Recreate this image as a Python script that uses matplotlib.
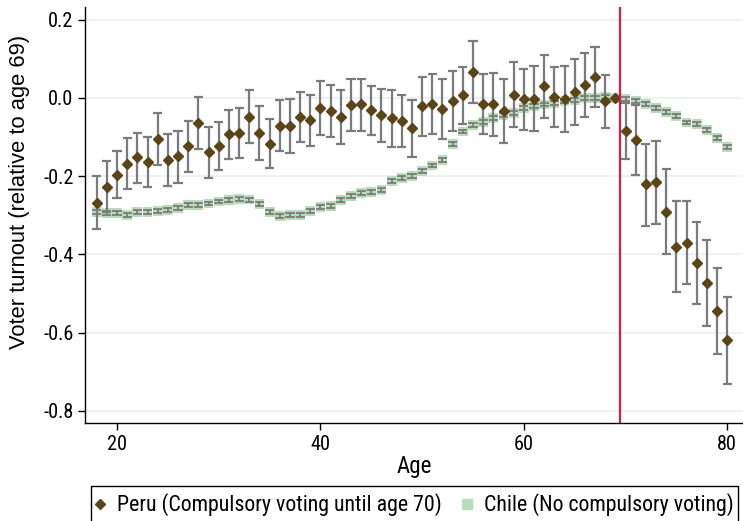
import matplotlib
matplotlib.use("Agg")
import matplotlib.pyplot as plt
from matplotlib import font_manager
from matplotlib.lines import Line2D
from matplotlib.patches import Rectangle
from matplotlib.ticker import FixedLocator, FormatStrFormatter

plt.rcParams['axes.unicode_minus'] = False


def pick_font(candidates):
    for name in candidates:
        try:
            font_manager.findfont(name, fallback_to_default=False)
            return name
        except Exception:
            continue
    return 'DejaVu Sans'


family = pick_font(['Liberation Sans Narrow', 'Arial Narrow', 'Roboto Condensed', 'Liberation Sans'])
title_family = pick_font(['Liberation Sans', 'Arial', 'Roboto'])
plt.rcParams['font.family'] = [family, 'DejaVu Sans']

# Ages covered by both series
ages = list(range(18, 81))

# Peru: point estimates and 95% confidence bounds (relative to age 69)
peru_est = [-0.268, -0.227, -0.196, -0.168, -0.152, -0.164, -0.106, -0.160, -0.148, -0.123,
            -0.064, -0.139, -0.124, -0.093, -0.090, -0.049, -0.090, -0.118, -0.072, -0.073,
            -0.050, -0.056, -0.027, -0.033, -0.049, -0.019, -0.017, -0.032, -0.044, -0.052,
            -0.058, -0.078, -0.022, -0.016, -0.029, -0.008, 0.006, 0.066, -0.015, -0.016,
            -0.034, 0.008, -0.003, -0.003, 0.029, 0.003, -0.003, 0.015, 0.032, 0.054,
            -0.009, 0.000, -0.085, -0.107, -0.221, -0.216, -0.291, -0.380, -0.370, -0.422,
            -0.472, -0.544, -0.618]
peru_hi = [-0.199, -0.161, -0.136, -0.102, -0.090, -0.099, -0.040, -0.093, -0.086, -0.058,
           0.003, -0.074, -0.063, -0.031, -0.025, 0.020, -0.021, -0.054, -0.006, -0.003,
           0.015, 0.008, 0.042, 0.033, 0.019, 0.048, 0.049, 0.029, 0.023, 0.020,
           0.008, -0.006, 0.054, 0.060, 0.047, 0.068, 0.079, 0.145, 0.062, 0.063,
           0.047, 0.092, 0.074, 0.080, 0.110, 0.078, 0.080, 0.098, 0.114, 0.131,
           0.059, 0.000, -0.013, -0.019, -0.118, -0.110, -0.181, -0.264, -0.263, -0.318,
           -0.362, -0.436, -0.508]
peru_lo = [-0.335, -0.292, -0.257, -0.233, -0.217, -0.228, -0.172, -0.226, -0.218, -0.189,
           -0.132, -0.205, -0.185, -0.156, -0.154, -0.116, -0.159, -0.179, -0.135, -0.141,
           -0.113, -0.122, -0.094, -0.099, -0.117, -0.086, -0.084, -0.095, -0.112, -0.125,
           -0.125, -0.150, -0.097, -0.093, -0.106, -0.084, -0.067, -0.013, -0.092, -0.097,
           -0.116, -0.074, -0.081, -0.086, -0.051, -0.074, -0.088, -0.069, -0.050, -0.023,
           -0.077, 0.000, -0.156, -0.196, -0.327, -0.322, -0.400, -0.497, -0.475, -0.527,
           -0.582, -0.655, -0.730]

# Chile: point estimates (relative to age 69) and half-width of the 95% CI
chile_est = [-0.292, -0.295, -0.295, -0.299, -0.292, -0.292, -0.289, -0.286, -0.282, -0.274,
             -0.273, -0.270, -0.265, -0.262, -0.259, -0.260, -0.272, -0.292, -0.302, -0.300,
             -0.300, -0.289, -0.278, -0.276, -0.262, -0.251, -0.243, -0.240, -0.236, -0.213,
             -0.205, -0.199, -0.187, -0.173, -0.158, -0.117, -0.086, -0.070, -0.061, -0.052,
             -0.044, -0.038, -0.027, -0.022, -0.017, -0.013, -0.009, -0.005, -0.001, 0.000,
             0.002, 0.000, -0.003, -0.007, -0.015, -0.025, -0.036, -0.047, -0.063, -0.067,
             -0.082, -0.102, -0.125]
chile_hw = [0.005] * 51 + [0.0] + [0.005] * 11

threshold_age = 69.5
x_ticks = [20, 40, 60, 80]
y_ticks = [0.2, 0.0, -0.2, -0.4, -0.6, -0.8]
x_title = 'Age'
y_title = 'Voter turnout (relative to age 69)'
labels = ['Peru (Compulsory voting until age 70)', 'Chile (No compulsory voting)']

peru_color = '#5b4417'
chile_color = '#b9dcb9'
ci_color = '#7b7b7b'
line_color = '#d11f4b'

W, H = 743, 521
fig = plt.figure(figsize=(W / 100, H / 100), dpi=100)
renderer = fig.canvas.get_renderer()


def size_for_width(text, width_px, fam=None):
    """Font size (pt) at which `text` spans `width_px` pixels."""
    kw = {'family': [fam, 'DejaVu Sans']} if fam else {}
    t = fig.text(0, 0, text, fontsize=10, **kw)
    w = t.get_window_extent(renderer).width
    t.remove()
    return 10 * width_px / w


fs_tick = size_for_width('0.0', 25)
fs_xtitle = size_for_width(x_title, 35)
fs_ytitle = size_for_width(y_title, 318, title_family)
fs_leg = size_for_width(labels[0], 325)
leg_px = fs_leg * 100 / 72

# axes box in pixels: left 84.7, right 742, top 7, bottom 422.7
L, R, T, B = 84.7, 742.0, 7.0, 422.7
ax = fig.add_axes([L / W, 1 - B / H, (R - L) / W, (B - T) / H])

ax.set_xlim(16.82, 81.45)
ax.set_ylim(-0.830, 0.232)

for y in y_ticks:
    ax.axhline(y, color='#eaf1f4', lw=1.2, zorder=0)

# Chile squares with their (narrow) confidence caps
ax.scatter(ages, chile_est, marker='s', s=50, color=chile_color, edgecolors='none', zorder=2)
chile_lo = [e - h for e, h in zip(chile_est, chile_hw)]
chile_hi = [e + h for e, h in zip(chile_est, chile_hw)]
ax.vlines(ages, chile_lo, chile_hi, color=ci_color, lw=1.3, zorder=3)
ax.hlines(chile_lo, [a - 0.45 for a in ages], [a + 0.45 for a in ages], color=ci_color, lw=1.3, zorder=3)
ax.hlines(chile_hi, [a - 0.45 for a in ages], [a + 0.45 for a in ages], color=ci_color, lw=1.3, zorder=3)

# Peru confidence intervals and point estimates
ax.vlines(ages, peru_lo, peru_hi, color=ci_color, lw=1.6, zorder=4)
ax.hlines(peru_lo, [a - 0.45 for a in ages], [a + 0.45 for a in ages], color=ci_color, lw=1.6, zorder=4)
ax.hlines(peru_hi, [a - 0.45 for a in ages], [a + 0.45 for a in ages], color=ci_color, lw=1.6, zorder=4)
ax.plot(ages, peru_est, linestyle='none', marker='D', ms=5.2, color=peru_color,
        markeredgecolor=peru_color, zorder=5)

ax.axvline(threshold_age, color=line_color, lw=1.6, zorder=6)

ax.xaxis.set_major_locator(FixedLocator(x_ticks))
ax.yaxis.set_major_locator(FixedLocator(y_ticks))
ax.yaxis.set_major_formatter(FormatStrFormatter('%.1f'))
ax.tick_params(axis='both', direction='out', length=5, width=1, labelsize=fs_tick,
               color='black')
ax.tick_params(axis='x', pad=3.5)
ax.tick_params(axis='y', pad=3)
for side in ('top', 'right'):
    ax.spines[side].set_visible(False)
for side in ('left', 'bottom'):
    ax.spines[side].set_linewidth(1)
    ax.spines[side].set_color('black')

ax.set_xlabel(x_title, fontsize=fs_xtitle)
ax.xaxis.set_label_coords((414 - L) / (R - L), (B - 455) / (B - T))
ax.set_ylabel(y_title, fontsize=fs_ytitle, family=[title_family, 'DejaVu Sans'])
ax.yaxis.set_label_coords((30 - L) / (R - L), (B - 191.5) / (B - T))

# legend entries, with a hand-drawn frame that runs past the bottom edge
handles = [
    Line2D([], [], linestyle='none', marker='D', ms=5, color=peru_color),
    Line2D([], [], linestyle='none', marker='s', ms=6.5, color=chile_color),
]
fig.legend(handles, labels, loc='center left', bbox_to_anchor=(94 / W, 1 - 505 / H),
           ncol=2, frameon=False, fontsize=fs_leg, handlelength=11.6 / leg_px,
           handletextpad=11 / leg_px, columnspacing=20 / leg_px, borderpad=0,
           borderaxespad=0)
fig.add_artist(Rectangle((91 / W, -0.02), (738 - 91) / W, 0.02 + 1 - 486 / H,
                         transform=fig.transFigure, fill=False, edgecolor='black',
                         lw=1, clip_on=False))

fig.savefig('out.png', dpi=100)
